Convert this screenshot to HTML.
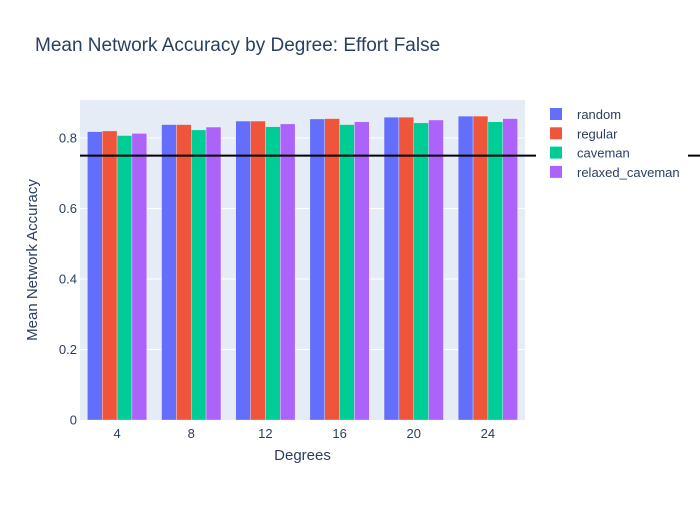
<!DOCTYPE html>
<html><head><meta charset="utf-8"><style>
body{margin:0;background:#fff;font-family:"Liberation Sans",sans-serif;}
svg text{font-family:"Liberation Sans",sans-serif;fill:#2a3f5f;}
</style></head><body>
<svg id="chart" width="700" height="500">
<rect x="0" y="0" width="700" height="500" fill="#fff"/>
<text x="35" y="51" font-size="19">Mean Network Accuracy by Degree: Effort False</text>
<rect x="80" y="100" width="445" height="320" fill="#e5ecf6"/>
<g id="grid"></g><g id="bars"></g><g id="ticks"></g>
<text x="302.5" y="460" font-size="15" text-anchor="middle">Degrees</text>
<text transform="translate(37,260) rotate(-90)" font-size="15" text-anchor="middle">Mean Network Accuracy</text>
<line x1="80" x2="700" y1="156" y2="156" stroke="#000" stroke-width="2" id="thresh"/>
<g id="legend"></g>
</svg>
<script>
const categories=["4","8","12","16","20","24"];
const seriesNames=["random","regular","caveman","relaxed_caveman"];
const random=[0.818,0.838,0.848,0.854,0.859,0.862];
const regular=[0.820,0.838,0.848,0.855,0.859,0.862];
const caveman=[0.807,0.823,0.832,0.838,0.843,0.846];
const relaxed=[0.813,0.831,0.840,0.846,0.851,0.855];
const yTicks=[0,0.2,0.4,0.6,0.8];
const yTickLabels=["0","0.2","0.4","0.6","0.8"];
const threshold=0.75;
const colors=["#636efa","#ef553b","#00cc96","#ab63fa"];
const series=[random,regular,caveman,relaxed];
const NS="http://www.w3.org/2000/svg";
const L=80,W=445,T=100,B=420;
const y=v=>B-v*352.5;
const band=W/categories.length;
function mk(tag,attrs,parent){const e=document.createElementNS(NS,tag);for(const k in attrs)e.setAttribute(k,attrs[k]);parent.appendChild(e);return e;}
const grid=document.getElementById('grid'),bars=document.getElementById('bars'),ticks=document.getElementById('ticks'),legend=document.getElementById('legend');
yTicks.forEach((v,i)=>{
 if(v>0){const g=mk('line',{x1:L,x2:L+W,y1:y(v),y2:y(v),stroke:'#fff','stroke-width':1},grid);
 
 }
 const t=mk('text',{x:L-3,y:y(v)+4.5,'font-size':13,'text-anchor':'end'},ticks);t.textContent=yTickLabels[i];
 
 
});
const bw=band*0.8/series.length;
categories.forEach((c,ci)=>{
 const cx=L+band*(ci+0.5);
 series.forEach((s,si)=>{
  const x0=cx-band*0.4+si*bw;
  const r=mk('rect',{x:x0,y:y(s[ci]),width:bw,height:B-y(s[ci]),fill:colors[si],stroke:'rgba(255,255,255,0.6)','stroke-width':0.5},bars);
  
  
 });
 const t=mk('text',{x:cx,y:B+18,'font-size':13,'text-anchor':'middle'},ticks);t.textContent=c;
 
 
});
const th=document.getElementById('thresh');th.setAttribute('y1',y(threshold));th.setAttribute('y2',y(threshold));
mk('rect',{x:536,y:100,width:152,height:90,fill:'#fff'},legend);
seriesNames.forEach((n,i)=>{
 const g=mk('g',{},legend);
 
 
 mk('rect',{x:550,y:108+i*19.3,width:12,height:12,fill:colors[i]},g);
 const t=mk('text',{x:577,y:119+i*19.3,'font-size':13},g);t.textContent=n;
});
</script>
</body></html>
